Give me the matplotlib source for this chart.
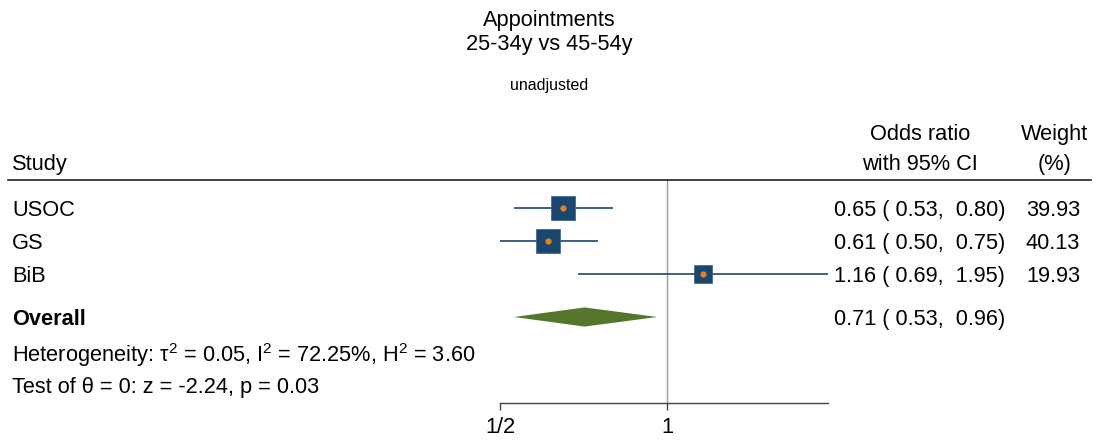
import matplotlib
matplotlib.use("Agg")
import matplotlib.pyplot as plt
from matplotlib import transforms
from matplotlib.patches import Polygon

plt.rcParams['font.family'] = ['Liberation Sans', 'DejaVu Sans']
plt.rcParams['mathtext.fontset'] = 'custom'
plt.rcParams['mathtext.rm'] = 'Liberation Sans'
plt.rcParams['mathtext.it'] = 'Liberation Sans:italic'
plt.rcParams['mathtext.bf'] = 'Liberation Sans:bold'

# ---- data ----
studies = ["USOC", "GS", "BiB"]
or_est = [0.65, 0.61, 1.16]
ci_low = [0.53, 0.50, 0.69]
ci_high = [0.80, 0.75, 1.95]
weights = [39.93, 40.13, 19.93]
overall_est = 0.71
overall_low = 0.53
overall_high = 0.96
het_text = r"Heterogeneity: \u03c4$^{\mathrm{2}}$ = 0.05, I$^{\mathrm{2}}$ = 72.25%, H$^{\mathrm{2}}$ = 3.60".replace(r"\u03c4", "\u03c4")
test_text = "Test of \u03b8 = 0: z = -2.24, p = 0.03"
xticks = [0.5, 1.0]
xticklabels = ["1/2", "1"]
title_lines = ["Appointments", "25-34y vs 45-54y"]
subtitle = "unadjusted"

W, H = 1098, 441
DPI = 100
fig = plt.figure(figsize=(W / DPI, H / DPI), dpi=DPI)

def fx(px):
    return px / W

def fy(py):
    return 1 - py / H

# axes: x from px 500 (0.5) to px 828 (1.95); y from px 180 to px 403
ax_l, ax_r, ax_t, ax_b = 500, 828, 180, 403
ax = fig.add_axes([fx(ax_l), fy(ax_b), fx(ax_r - ax_l), (ax_b - ax_t) / H])
ax.set_xscale('log')
ax.set_xlim(0.5, 1.95)
row_h = 33.0
ymax = (ax_b - ax_t) / row_h
ax.set_ylim(ymax, 0)

row_y = [(208 - ax_t) / row_h, (241 - ax_t) / row_h, (274 - ax_t) / row_h]
overall_y = (317 - ax_t) / row_h
het_y = (352 - ax_t) / row_h
test_y = (385 - ax_t) / row_h

fs = 15.7

for s in ['top', 'right', 'left']:
    ax.spines[s].set_visible(False)
ax.spines['bottom'].set_color('#444444')
ax.spines['bottom'].set_linewidth(1.0)
ax.set_yticks([])
ax.set_xticks(xticks)
ax.set_xticklabels(xticklabels, fontsize=fs)
ax.minorticks_off()
ax.tick_params(axis='x', length=5, width=1, color='#444444', pad=5)

# reference line
ax.axvline(1.0, color='#999999', lw=1.0, zorder=1)

navy = '#1a476f'
for i in range(len(studies)):
    ax.plot([ci_low[i], ci_high[i]], [row_y[i], row_y[i]], color=navy, lw=1.2,
            solid_capstyle='butt', clip_on=False, zorder=2)
    ax.scatter([or_est[i]], [row_y[i]], marker='s', s=weights[i] * 7.8,
               color=navy, edgecolors='#3a5f85', linewidths=0.5, zorder=3, clip_on=False)
    ax.plot([or_est[i]], [row_y[i]], 'o', ms=4.5, color='#e8820c', mec='none',
            zorder=4, clip_on=False)

dh = 0.29
diamond = Polygon([[overall_low, overall_y], [overall_est, overall_y - dh],
                   [overall_high, overall_y], [overall_est, overall_y + dh]],
                  closed=True, facecolor='#55762b', edgecolor='none', zorder=3)
ax.add_patch(diamond)

# text columns
bt = transforms.blended_transform_factory(fig.transFigure, ax.transData)
va = 'center_baseline'
for i, name in enumerate(studies):
    ax.text(fx(12), row_y[i], name, transform=bt, fontsize=fs, va=va, ha='left')
    ax.text(fx(1005), row_y[i], f"{or_est[i]:.2f} ( {ci_low[i]:.2f},  {ci_high[i]:.2f})",
            transform=bt, fontsize=fs, va=va, ha='right')
    ax.text(fx(1080), row_y[i], f"{weights[i]:.2f}", transform=bt, fontsize=fs,
            va=va, ha='right')
ax.text(fx(12), overall_y, "Overall", transform=bt, fontsize=fs, va=va,
        ha='left', fontweight='bold')
ax.text(fx(1005), overall_y, f"{overall_est:.2f} ( {overall_low:.2f},  {overall_high:.2f})",
        transform=bt, fontsize=fs, va=va, ha='right')
ax.text(fx(12), het_y, het_text, transform=bt, fontsize=fs, va=va, ha='left')
ax.text(fx(12), test_y, test_text, transform=bt, fontsize=fs, va=va, ha='left')

# header
fig.text(fx(12), fy(162), "Study", fontsize=fs, va=va, ha='left')
fig.text(fx(920), fy(132), "Odds ratio", fontsize=fs, va=va, ha='center')
fig.text(fx(920), fy(162), "with 95% CI", fontsize=fs, va=va, ha='center')
fig.text(fx(1055), fy(132), "Weight", fontsize=fs, va=va, ha='center')
fig.text(fx(1055), fy(162), "(%)", fontsize=fs, va=va, ha='center')

# top rule
fig.add_artist(plt.Line2D([fx(8), fx(1091)], [fy(180), fy(180)], color='#222222', lw=1.2))

# titles
fig.text(0.5, fy(18), title_lines[0], fontsize=fs, ha='center', va=va)
fig.text(0.5, fy(42), title_lines[1], fontsize=fs, ha='center', va=va)
fig.text(0.5, fy(84), subtitle, fontsize=11.5, ha='center', va=va)

fig.savefig("out.png", dpi=DPI, facecolor='white')
